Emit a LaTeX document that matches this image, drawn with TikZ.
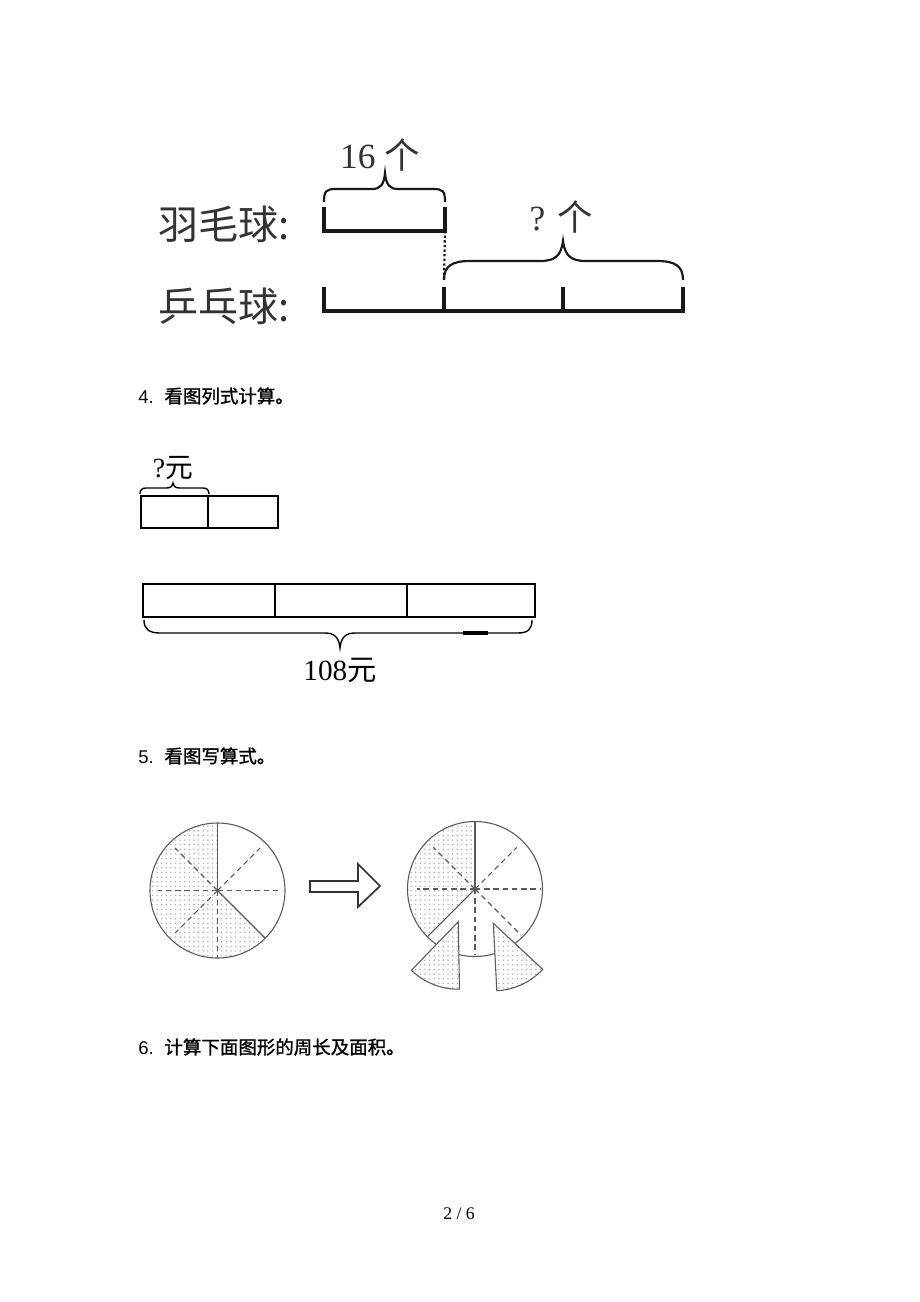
\documentclass[tikz,border=0pt]{standalone}
\usepackage{fontspec}
\setmainfont{Liberation Serif}
\setsansfont{Liberation Sans}
\newfontfamily\cjk{Noto Sans CJK SC}
\newfontfamily\cjkhead[FakeBold=1.2]{Noto Sans CJK SC}
\usetikzlibrary{patterns}

\begin{document}
\begin{tikzpicture}[x=0.022826cm, y=0.022826cm,
  bar/.style={line width=2.2pt, black!90},
  curly/.style={line width=1.4pt, black!90},
  box/.style={line width=0.9pt},
  rim/.style={line width=0.7pt, black!65},
  cut/.style={rim, dash pattern=on 3.5pt off 2.5pt},
  dotty/.style={pattern=dots, pattern color=black!35}]
\fill [color=white] (0, 0) rectangle (920, -1302);

\node at (158, -224) [anchor=west, inner sep=0, text=black!80, font=\cjk\fontsize{26pt}{30pt}\selectfont] (ymq) {羽毛球:};
\node at (158, -306.5) [anchor=west, inner sep=0, text=black!80, font=\cjk\fontsize{26pt}{30pt}\selectfont] (ppq) {乒乓球:};
\node at (380, -155) [text=black!80, font=\fontsize{23pt}{27pt}\selectfont] (n16) {16 {\cjk 个}};
\node at (561, -217.5) [text=black!80, font=\fontsize{23pt}{27pt}\selectfont] (nq) {? {\cjk 个}};
\draw [curly] (324, -202) .. controls (324, -191) and (326, -189) .. (336, -189) -- (372, -189) .. controls (380, -189) and (384, -185) .. (385, -173) .. controls (386, -185) and (390, -189) .. (398, -189) -- (433, -189) .. controls (443, -189) and (445, -191) .. (445, -202);
\draw [bar] (324, -207) -- (324, -231) -- (445, -231) -- (445, -207);
\coordinate (ymq end) at (445, -231);
\coordinate (ppq mid) at (444, -280);
\draw [curly, dash pattern=on 1.5pt off 1.5pt] (ymq end) -- (ppq mid);
\draw [curly] (444, -280) .. controls (444, -266) and (452, -261) .. (470, -261) -- (540, -261) .. controls (555, -261) and (561, -256) .. (563, -241) .. controls (565, -256) and (571, -261) .. (586, -261) -- (657, -261) .. controls (675, -261) and (683, -266) .. (683, -280);
\draw [bar] (324, -287) -- (324, -311) -- (683, -311) -- (683, -287);
\draw [bar] (444, -287) -- (444, -311);
\draw [bar] (563, -287) -- (563, -311);

\node at (138, -403) [anchor=base west, inner sep=0, font=\fontsize{12pt}{14pt}\selectfont] (q4) {{\sffamily 4.}\hspace{7pt}{\cjkhead 看图列式计算。}};
\node at (173, -468) [font=\fontsize{18pt}{22pt}\selectfont] (part) {?{\cjk 元}};
\draw [box] (140, -494) .. controls (140, -490) and (142, -488) .. (146, -488) -- (166, -488) .. controls (170, -488) and (172, -487) .. (173, -483) .. controls (174, -487) and (176, -488) .. (180, -488) -- (203, -488) .. controls (207, -488) and (209, -490) .. (209, -494);
\draw [box] (141, -496) rectangle (278, -528);
\draw [box] (208, -496) -- (208, -528);
\draw [box] (143, -584) rectangle (535, -617);
\draw [box] (275, -584) -- (275, -617);
\draw [box] (407, -584) -- (407, -617);
\draw [box] (144, -620) .. controls (144, -629) and (149, -633) .. (160, -633) -- (325, -633) .. controls (334, -633) and (339, -637) .. (340, -648) .. controls (341, -637) and (346, -633) .. (355, -633) -- (518, -633) .. controls (528, -633) and (532, -629) .. (532, -620);
\draw [line width=2pt] (463, -633) -- (488, -633);
\node at (340, -670) [font=\fontsize{19pt}{23pt}\selectfont] (total) {108{\cjk 元}};

\node at (138, -763) [anchor=base west, inner sep=0, font=\fontsize{12pt}{14pt}\selectfont] (q5) {{\sffamily 5.}\hspace{7pt}{\cjkhead 看图写算式。}};
\coordinate (lc) at (217.5, -890.5);
\fill [dotty] (lc) -- ++(90:67.5) arc [start angle=90, end angle=315, radius=67.5] -- cycle;
\draw [rim] (lc) circle [radius=67.5];
\draw [rim] (lc) -- ++(90:67.5);
\draw [rim] (lc) -- ++(-45:67.5);
\foreach \a in {0, 45, 135, 180, 225}
  \draw [cut] (lc) -- ++(\a:60);
\draw [cut] (lc) -- ++(-90:67);

\draw [line width=1.1pt, black!80, line join=miter] (310, -881) -- (358, -881) -- (358, -864) -- (380, -886) -- (358, -907) -- (358, -892) -- (310, -892) -- cycle;

\coordinate (rc) at (475, -889);
\fill [dotty] (rc) -- ++(90:67.5) arc [start angle=90, end angle=225, radius=67.5] -- cycle;
\draw [rim] (rc) circle [radius=67.5];
\draw [rim] (rc) -- ++(90:67.5);
\draw [rim] (rc) -- ++(225:67.5);
\foreach \a/\r in {135/59, 180/58, 45/59, 0/65, -45/65.5, -90/66}
  \draw [cut] (rc) -- ++(\a:\r);
\coordinate (ls) at (458.3, -921.7);
\coordinate (rs) at (493.3, -923.3);
\draw [rim, preaction={fill=white}, dotty] (ls) -- ++(-134:67.5) arc [start angle=-134, end angle=-89, radius=67.5] -- cycle;
\draw [rim, preaction={fill=white}, dotty] (rs) -- ++(-87:67.5) arc [start angle=-87, end angle=-43, radius=67.5] -- cycle;

\node at (138, -1054) [anchor=base west, inner sep=0, font=\fontsize{12pt}{14pt}\selectfont] (q6) {{\sffamily 6.}\hspace{7pt}{\cjkhead 计算下面图形的周长及面积。}};
\node at (459, -1219) [anchor=base, inner sep=0, font=\fontsize{11.5pt}{14pt}\selectfont] (page) {2 / 6};
\end{tikzpicture}
\end{document}
